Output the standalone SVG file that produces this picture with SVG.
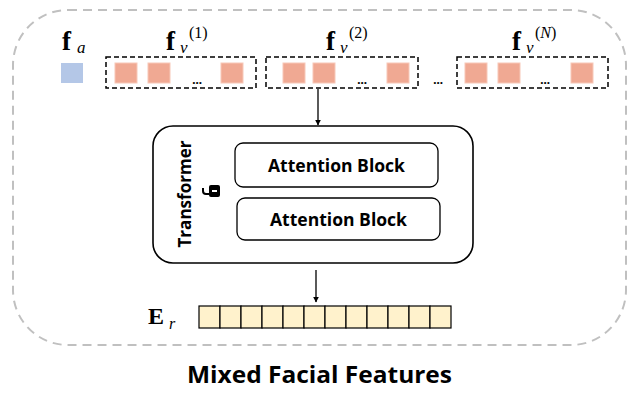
<svg xmlns="http://www.w3.org/2000/svg" width="632" height="394" viewBox="0 0 632 394">
<defs>
<style>
.math{font-family:"Liberation Serif","DejaVu Serif",serif;font-weight:bold;fill:#000}
.mi{font-family:"Liberation Serif","DejaVu Serif",serif;font-style:italic;fill:#000}
.sup{font-family:"Liberation Serif","DejaVu Serif",serif;fill:#000}
.lbl{font-family:"Open Sans","Liberation Sans",sans-serif;font-weight:bold;fill:#000}
.tok{fill:#f0a993;stroke:#f7c8b8;stroke-width:1}
.grp{fill:none;stroke:#000;stroke-width:1.5;stroke-dasharray:5,3}
.cell{fill:#fff2cc;stroke:#000;stroke-width:1.2}
.blk{fill:#fff;stroke:#000;stroke-width:1.3}
.conn{stroke:#000;stroke-width:1.3;fill:none}
</style>
<marker id="ah" viewBox="0 0 10 10" refX="9" refY="5" markerWidth="6" markerHeight="6" orient="auto" markerUnits="userSpaceOnUse">
<path d="M0,0 L10,5 L0,10 z" fill="#000"/>
</marker>
</defs>
<rect width="632" height="394" fill="#fff"/>
<g id="outer">
<rect x="13" y="10" width="613" height="335" rx="55" ry="55" fill="none" stroke="#c0c0c0" stroke-width="2" stroke-dasharray="9,6"/>
</g>
<g id="fa">
<text x="62" y="50" class="math" font-size="27">f</text>
<text x="77" y="53" class="mi" font-size="17">a</text>
<rect x="61" y="63" width="22" height="20" fill="#b4c7e7"/>
</g>
<g id="fv1">
<text x="166" y="50" class="math" font-size="27">f</text>
<text x="180" y="53" class="mi" font-size="17">v</text>
<text x="189" y="38" class="sup" font-size="16">(1)</text>
<rect x="106" y="57" width="150" height="31" class="grp"/>
<rect x="115" y="63" width="22" height="20" class="tok"/>
<rect x="148" y="63" width="22" height="20" class="tok"/>
<text x="197" y="84" class="math" font-size="13" text-anchor="middle">...</text>
<rect x="221" y="63" width="22" height="20" class="tok"/>
</g>
<g id="fv2">
<text x="326" y="50" class="math" font-size="27">f</text>
<text x="340" y="53" class="mi" font-size="17">v</text>
<text x="349" y="38" class="sup" font-size="16">(2)</text>
<rect x="266" y="57" width="152" height="31" class="grp"/>
<rect x="283" y="63" width="22" height="20" class="tok"/>
<rect x="313" y="63" width="22" height="20" class="tok"/>
<text x="362" y="84" class="math" font-size="13" text-anchor="middle">...</text>
<rect x="387" y="63" width="22" height="20" class="tok"/>
</g>
<text x="438" y="84" class="math" font-size="13" text-anchor="middle">...</text>
<g id="fvN">
<text x="512" y="50" class="math" font-size="27">f</text>
<text x="526" y="53" class="mi" font-size="17">v</text>
<text x="535" y="38" class="sup" font-size="16">(<tspan class="mi">N</tspan>)</text>
<rect x="457" y="57" width="151" height="31" class="grp"/>
<rect x="465" y="63" width="22" height="20" class="tok"/>
<rect x="498" y="63" width="22" height="20" class="tok"/>
<text x="545" y="84" class="math" font-size="13" text-anchor="middle">...</text>
<rect x="571" y="63" width="22" height="20" class="tok"/>
</g>
<g id="transformer">
<rect x="153" y="126" width="320" height="137" rx="20" ry="20" fill="#fff" stroke="#000" stroke-width="1.6"/>
<text transform="translate(191,194) rotate(-90)" class="lbl" font-size="18" text-anchor="middle" textLength="107" lengthAdjust="spacingAndGlyphs">Transformer</text>
<g id="lock">
<rect x="209" y="185" width="11" height="12" rx="2" fill="#000"/>
<rect x="212" y="190" width="5" height="2" fill="#fff"/>
<path d="M209,194 H206 A3,3 0 0 1 203,191 V188" fill="none" stroke="#000" stroke-width="2"/>
</g>
</g>
<g id="attn1">
<rect x="235" y="143" width="203" height="44" rx="8" ry="8" class="blk"/>
<text x="336.5" y="172" class="lbl" font-size="18" text-anchor="middle" textLength="137" lengthAdjust="spacingAndGlyphs">Attention Block</text>
</g>
<g id="attn2">
<rect x="237" y="198" width="203" height="42" rx="8" ry="8" class="blk"/>
<text x="338.5" y="226" class="lbl" font-size="18" text-anchor="middle" textLength="137" lengthAdjust="spacingAndGlyphs">Attention Block</text>
</g>
<g id="er">
<text x="148" y="324" class="math" font-size="24">E</text>
<text x="169" y="329" class="mi" font-size="16">r</text>
<rect x="199" y="306" width="21" height="22" class="cell"/>
<rect x="220" y="306" width="21" height="22" class="cell"/>
<rect x="241" y="306" width="21" height="22" class="cell"/>
<rect x="262" y="306" width="21" height="22" class="cell"/>
<rect x="283" y="306" width="21" height="22" class="cell"/>
<rect x="304" y="306" width="21" height="22" class="cell"/>
<rect x="325" y="306" width="21" height="22" class="cell"/>
<rect x="346" y="306" width="21" height="22" class="cell"/>
<rect x="367" y="306" width="21" height="22" class="cell"/>
<rect x="388" y="306" width="21" height="22" class="cell"/>
<rect x="409" y="306" width="21" height="22" class="cell"/>
<rect x="430" y="306" width="21" height="22" class="cell"/>
</g>
<g id="connectors">
<line x1="318" y1="89" x2="318" y2="125" class="conn" marker-end="url(#ah)"/>
<line x1="316" y1="270" x2="316" y2="302" class="conn" marker-end="url(#ah)"/>
</g>
<text x="319.5" y="383" class="lbl" font-size="24" text-anchor="middle" textLength="265" lengthAdjust="spacingAndGlyphs">Mixed Facial Features</text>
</svg>
